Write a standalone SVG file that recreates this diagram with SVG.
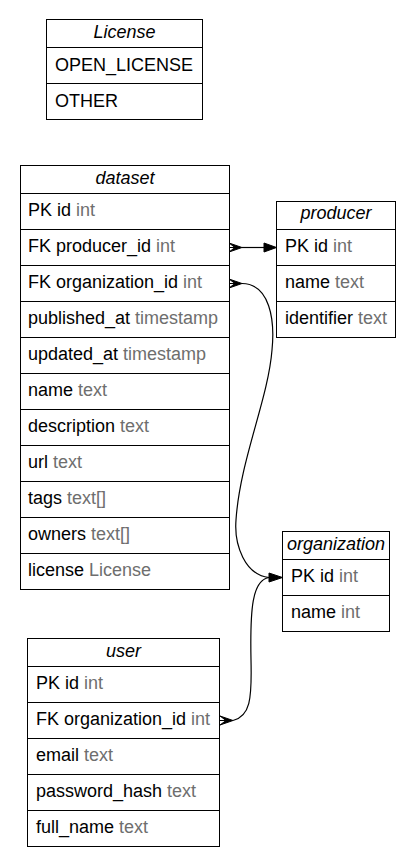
<svg xmlns="http://www.w3.org/2000/svg" width="414" height="866" viewBox="0 0 414 866">
<style>
.box{fill:#fff;stroke:#000;stroke-width:1}
.sep{stroke:#000;stroke-width:1}
.h{font-family:"Liberation Sans",Arial,sans-serif;font-size:18px;font-style:italic;text-anchor:middle;fill:#000}
.r{font-family:"Liberation Sans",Arial,sans-serif;font-size:18px;fill:#000}
.t{fill:#6e6e6e}
.edge{fill:none;stroke:#000;stroke-width:1.2}
.head{fill:#000;stroke:#000;stroke-width:1}
</style>
<rect width="414" height="866" fill="#fff"/>
<g id="License">
<rect class="box" x="46.5" y="19.5" width="156" height="100"/>
<line class="sep" x1="46.5" y1="47.5" x2="202.5" y2="47.5"/>
<line class="sep" x1="46.5" y1="83.5" x2="202.5" y2="83.5"/>
<text class="h" x="124.5" y="37.5">License</text>
<text class="r" x="55" y="71">OPEN_LICENSE</text>
<text class="r" x="55" y="107">OTHER</text>
</g>
<g id="dataset">
<rect class="box" x="20.5" y="165.5" width="209" height="424"/>
<line class="sep" x1="20.5" y1="193.5" x2="229.5" y2="193.5"/>
<line class="sep" x1="20.5" y1="229.5" x2="229.5" y2="229.5"/>
<line class="sep" x1="20.5" y1="265.5" x2="229.5" y2="265.5"/>
<line class="sep" x1="20.5" y1="301.5" x2="229.5" y2="301.5"/>
<line class="sep" x1="20.5" y1="337.5" x2="229.5" y2="337.5"/>
<line class="sep" x1="20.5" y1="373.5" x2="229.5" y2="373.5"/>
<line class="sep" x1="20.5" y1="409.5" x2="229.5" y2="409.5"/>
<line class="sep" x1="20.5" y1="445.5" x2="229.5" y2="445.5"/>
<line class="sep" x1="20.5" y1="481.5" x2="229.5" y2="481.5"/>
<line class="sep" x1="20.5" y1="517.5" x2="229.5" y2="517.5"/>
<line class="sep" x1="20.5" y1="553.5" x2="229.5" y2="553.5"/>
<text class="h" x="125" y="183.5">dataset</text>
<text class="r" x="28" y="216">PK id <tspan class="t">int</tspan></text>
<text class="r" x="28" y="252">FK producer_id <tspan class="t">int</tspan></text>
<text class="r" x="28" y="288">FK organization_id <tspan class="t">int</tspan></text>
<text class="r" x="28" y="324">published_at <tspan class="t">timestamp</tspan></text>
<text class="r" x="28" y="360">updated_at <tspan class="t">timestamp</tspan></text>
<text class="r" x="28" y="396">name <tspan class="t">text</tspan></text>
<text class="r" x="28" y="432">description <tspan class="t">text</tspan></text>
<text class="r" x="28" y="468">url <tspan class="t">text</tspan></text>
<text class="r" x="28" y="504">tags <tspan class="t">text[]</tspan></text>
<text class="r" x="28" y="540">owners <tspan class="t">text[]</tspan></text>
<text class="r" x="28" y="576">license <tspan class="t">License</tspan></text>
</g>
<g id="producer">
<rect class="box" x="276.5" y="201.5" width="119" height="136"/>
<line class="sep" x1="276.5" y1="229.5" x2="395.5" y2="229.5"/>
<line class="sep" x1="276.5" y1="265.5" x2="395.5" y2="265.5"/>
<line class="sep" x1="276.5" y1="301.5" x2="395.5" y2="301.5"/>
<text class="h" x="336" y="219">producer</text>
<text class="r" x="285" y="252">PK id <tspan class="t">int</tspan></text>
<text class="r" x="285" y="288">name <tspan class="t">text</tspan></text>
<text class="r" x="285" y="324">identifier <tspan class="t">text</tspan></text>
</g>
<g id="organization">
<rect class="box" x="282.5" y="531.5" width="107" height="100"/>
<line class="sep" x1="282.5" y1="559.5" x2="389.5" y2="559.5"/>
<line class="sep" x1="282.5" y1="595.5" x2="389.5" y2="595.5"/>
<text class="h" x="336" y="549.5">organization</text>
<text class="r" x="291" y="582">PK id <tspan class="t">int</tspan></text>
<text class="r" x="291" y="618">name <tspan class="t">int</tspan></text>
</g>
<g id="user">
<rect class="box" x="27.5" y="638.5" width="192" height="208"/>
<line class="sep" x1="27.5" y1="666.5" x2="219.5" y2="666.5"/>
<line class="sep" x1="27.5" y1="702.5" x2="219.5" y2="702.5"/>
<line class="sep" x1="27.5" y1="738.5" x2="219.5" y2="738.5"/>
<line class="sep" x1="27.5" y1="774.5" x2="219.5" y2="774.5"/>
<line class="sep" x1="27.5" y1="810.5" x2="219.5" y2="810.5"/>
<text class="h" x="123.5" y="656.5">user</text>
<text class="r" x="36" y="689">PK id <tspan class="t">int</tspan></text>
<text class="r" x="36" y="725">FK organization_id <tspan class="t">int</tspan></text>
<text class="r" x="36" y="761">email <tspan class="t">text</tspan></text>
<text class="r" x="36" y="797">password_hash <tspan class="t">text</tspan></text>
<text class="r" x="36" y="833">full_name <tspan class="t">text</tspan></text>
</g>
<g id="connectors">
<path class="edge" d="M242,247.5 L265,247.5"/>
<polygon class="head" points="242,247.5 229,243 235,247.5 229,247.5 235,247.5 229,252"/>
<polygon class="head" points="264,243 276.5,247.5 264,252"/>
<path class="edge" d="M242,283.5 C270,284 275,320 272,350 C268,400 240,460 236,520 C234,545 245,575 269,577.5"/>
<polygon class="head" points="242,283.5 229,279 235,283.5 229,283.5 235,283.5 229,288"/>
<path class="edge" d="M233,720.5 C250,716 252,700 251,660 C250,610 252,580 269,577.5"/>
<polygon class="head" points="233,720.5 220,716 226,720.5 220,720.5 226,720.5 220,725"/>
<polygon class="head" points="269,573 282.5,577.5 269,582"/>
</g>
</svg>
